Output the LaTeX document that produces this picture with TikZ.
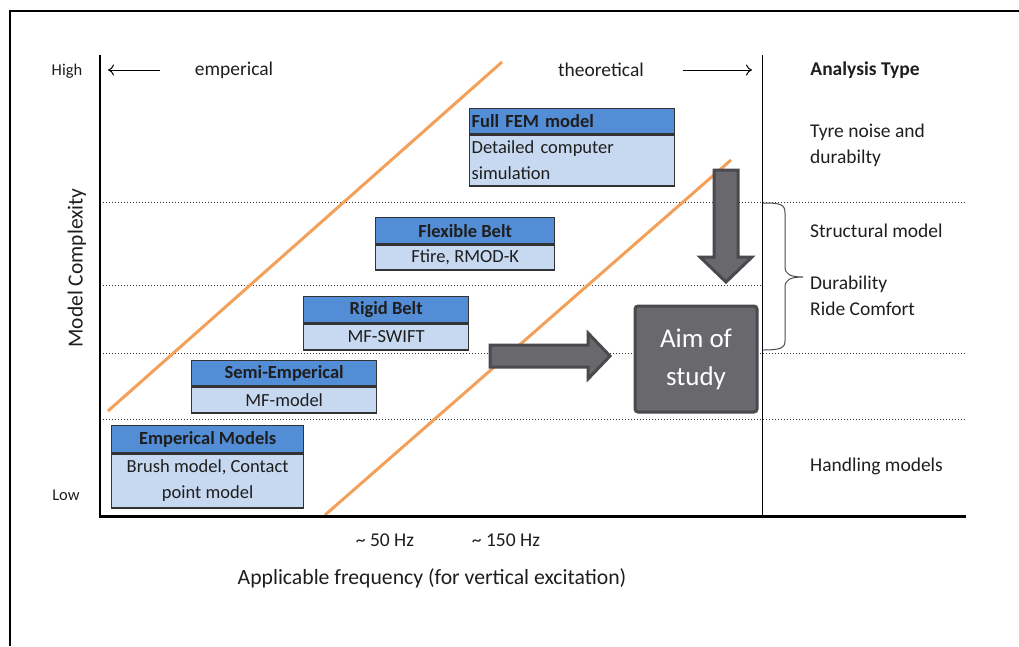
\documentclass[tikz,border=0pt]{standalone}
\usepackage{fontspec}
\setmainfont{Carlito}
\usetikzlibrary{arrows.meta}
\definecolor{hdrblue}{HTML}{538DD5}
\definecolor{bdyblue}{HTML}{C6D9F1}
\definecolor{boxline}{HTML}{333333}
\definecolor{orng}{HTML}{F3A05A}
\definecolor{darkfill}{HTML}{69686D}
\definecolor{darkline}{HTML}{4A4A4E}
\definecolor{txt}{HTML}{1E1E1E}
\tikzset{
  hdr/.style={draw=boxline, line width=1.3pt, fill=hdrblue, anchor=north west, inner sep=0pt, font=\fontsize{18.5}{22}\selectfont\bfseries, text=txt},
  bdy/.style={draw=boxline, line width=1.3pt, fill=bdyblue, anchor=north west, inner sep=0pt, font=\fontsize{18.5}{26}\selectfont, text=txt, align=center},
  lbl/.style={font=\fontsize{19.5}{26}\selectfont, text=txt, inner sep=0pt},
  dotline/.style={dotted, line width=1pt, black!80},
  bigarrow/.style={fill=darkfill, draw=darkline, line width=3pt, line join=miter},
}
\begin{document}
\begin{tikzpicture}[x=1pt,y=-1pt]
\useasboundingbox (0,0) rectangle (1019,646);
% frame
\draw[line width=2.5pt] (10,646) -- (10,11) -- (1019,11);
% dotted levels
\draw[dotline] (100,202) -- (966,202);
\draw[dotline] (100,285) -- (762,285);
\draw[dotline] (100,353) -- (966,353);
\draw[dotline] (100,419) -- (966,419);
% orange lines
\draw[orng, line width=3pt] (108,411) -- (502,62);
\draw[orng, line width=3pt] (325,515) -- (731,160);
% axes
\draw[line width=1.8pt] (100,55) -- (100,517);
\draw[line width=3pt] (99,516) -- (966,516);
\draw[line width=1pt] (762,55) -- (762,516);
% top labels
\node[lbl, font=\fontsize{16.5}{19}\selectfont] (high) at (67,71) {High};
\node[lbl, font=\fontsize{16.5}{19}\selectfont] (low) at (66,495) {Low};
\node[lbl, rotate=90, font=\fontsize{21.5}{24}\selectfont] (mc) at (77,268) {Model Complexity};
\node[lbl] (emp) at (234,70) {emperical};
\node[lbl] (theo) at (601,70) {theoretical};
\coordinate (la1) at (160,70);
\coordinate (la2) at (108,70);
\coordinate (ra1) at (683,70);
\coordinate (ra2) at (752,70);
\draw[-{To[length=6pt,width=11pt]}, line width=1pt] (la1) -- (la2);
\draw[-{To[length=6pt,width=11pt]}, line width=1pt] (ra1) -- (ra2);
\node[lbl, font=\fontsize{19.5}{22}\selectfont\bfseries] (at) at (865,70) {Analysis Type};
% right labels
\node[lbl, anchor=west, align=left] (tyre) at (810,145) {Tyre noise and\\durabilty};
\node[lbl, anchor=west] (struct) at (810,231) {Structural model};
\node[lbl, anchor=west, align=left] (dur) at (810,296) {Durability\\Ride Comfort};
\node[lbl, anchor=west] (hand) at (810,466) {Handling models};
% brace
\draw[darkline, line width=1pt] (763,203) .. controls (780,203) and (785,204) .. (785,213) -- (785,267) .. controls (785,274) and (790,277) .. (803,277) .. controls (790,277) and (785,280) .. (785,287) -- (785,341) .. controls (785,348) and (780,350) .. (763,350);
% bottom labels
\node[lbl, font=\fontsize{19.5}{22}\selectfont] (f50) at (385,540) {\textasciitilde{} 50 Hz};
\node[lbl, font=\fontsize{19.5}{22}\selectfont] (f150) at (506,540) {\textasciitilde{} 150 Hz};
\node[lbl, font=\fontsize{21.7}{24}\selectfont] (xl) at (432,578) {Applicable frequency (for vertical excitation)};
% boxes
\node[hdr, minimum width=205pt, minimum height=25pt, text width=201pt, align=left] (femh) at (469,108) {Full FEM model};
\node[bdy, minimum width=205pt, minimum height=51pt, text width=201pt, align=left] (femb) at (femh.south west) {Detailed computer\\simulation};
\node[hdr, minimum width=179pt, minimum height=26pt] (flexh) at (375,217) {Flexible Belt};
\node[bdy, minimum width=179pt, minimum height=25pt] (flexb) at (flexh.south west) {Ftire, RMOD-K};
\node[hdr, minimum width=165pt, minimum height=26pt] (righ) at (303,296) {Rigid Belt};
\node[bdy, minimum width=165pt, minimum height=26pt] (rigb) at (righ.south west) {MF-SWIFT};
\node[hdr, minimum width=185pt, minimum height=25pt] (semh) at (191,360) {Semi-Emperical};
\node[bdy, minimum width=185pt, minimum height=26pt] (semb) at (semh.south west) {MF-model};
\node[hdr, minimum width=192pt, minimum height=27pt] (emph) at (111,425) {Emperical Models};
\node[bdy, minimum width=192pt, minimum height=54pt] (empb) at (emph.south west) {Brush model, Contact\\point model};
% big arrows
\draw[bigarrow] (714,170) -- (738,170) -- (738,257) -- (752,257) -- (726,282) -- (700,257) -- (714,257) -- cycle;
\draw[bigarrow] (490,345) -- (588,345) -- (588,333) -- (610,356) -- (588,379) -- (588,367) -- (490,367) -- cycle;
% aim box
\node[fill=darkfill, draw=darkline, line width=3pt, rounded corners=3pt, minimum width=122pt, minimum height=106pt, text=white, align=center, font=\fontsize{27}{38}\selectfont, inner sep=0pt] (aim) at (696,359) {Aim of\\study};
\end{tikzpicture}
\end{document}
